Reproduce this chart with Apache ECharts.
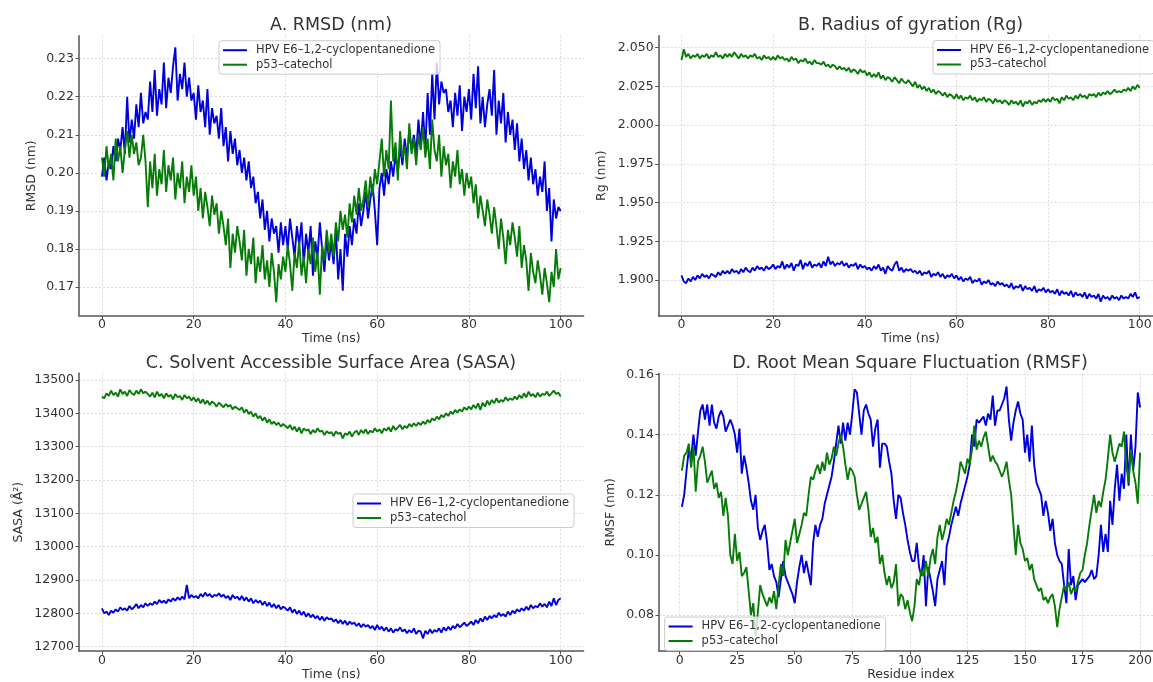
<!DOCTYPE html>
<html>
<head>
<meta charset="utf-8">
<script src="https://cdn.jsdelivr.net/npm/echarts@6/dist/echarts.min.js"></script>
<style>
html,body{margin:0;padding:0;background:#fff;overflow:hidden;width:1153px;height:682px}
#c{width:1170px;height:682px}
</style>
</head>
<body>
<div id="c"></div>
<script>
// ---------------- DATA ----------------
const seriesNames = ['HPV E6\u20131,2-cyclopentanedione', 'p53\u2013catechol'];
const panelTitles = ['A. RMSD (nm)', 'B. Radius of gyration (Rg)', 'C. Solvent Accessible Surface Area (SASA)', 'D. Root Mean Square Fluctuation (RMSF)'];
const timeStep = 0.5;      // ns between samples
const residueStart = 1;

const timeTicks = [0, 20, 40, 60, 80, 100];
const residueTicks = [0, 25, 50, 75, 100, 125, 150, 175, 200];
const rmsdTicks = [0.17, 0.18, 0.19, 0.20, 0.21, 0.22, 0.23];
const rgTicks = [1.900, 1.925, 1.950, 1.975, 2.000, 2.025, 2.050];
const sasaTicks = [12700, 12800, 12900, 13000, 13100, 13200, 13300, 13400, 13500];
const rmsfTicks = [0.08, 0.10, 0.12, 0.14, 0.16];

const rmsdHpv = [
0.199,0.204,0.198,0.203,0.201,0.207,0.203,0.209,0.206,0.212,0.205,0.220,0.208,0.214,0.209,0.218,0.212,0.221,0.213,0.216,
0.214,0.224,0.216,0.227,0.215,0.222,0.218,0.229,0.217,0.225,0.221,0.228,0.233,0.219,0.226,0.222,0.229,0.220,0.225,0.219,
0.221,0.214,0.223,0.216,0.219,0.212,0.222,0.210,0.217,0.213,0.215,0.209,0.217,0.207,0.212,0.203,0.211,0.205,0.209,0.202,
0.206,0.200,0.204,0.198,0.203,0.196,0.199,0.192,0.195,0.188,0.193,0.185,0.190,0.182,0.188,0.184,0.186,0.179,0.187,0.181,
0.186,0.180,0.188,0.183,0.178,0.186,0.181,0.187,0.176,0.184,0.179,0.186,0.173,0.182,0.178,0.187,0.180,0.174,0.183,0.177,
0.182,0.176,0.185,0.172,0.180,0.169,0.184,0.178,0.186,0.181,0.188,0.184,0.192,0.186,0.190,0.195,0.188,0.193,0.197,0.190,
0.181,0.196,0.200,0.194,0.201,0.197,0.203,0.199,0.205,0.200,0.207,0.202,0.209,0.204,0.211,0.206,0.210,0.205,0.214,0.207,
0.216,0.206,0.221,0.210,0.226,0.214,0.229,0.218,0.224,0.221,0.222,0.216,0.219,0.212,0.221,0.215,0.223,0.211,0.220,0.216,
0.222,0.214,0.226,0.217,0.228,0.213,0.220,0.212,0.218,0.222,0.215,0.227,0.210,0.219,0.213,0.221,0.208,0.216,0.210,0.214,
0.206,0.213,0.203,0.209,0.201,0.206,0.198,0.204,0.197,0.201,0.194,0.199,0.195,0.203,0.190,0.196,0.182,0.193,0.188,0.191,0.190
];
const rmsdP53 = [
0.204,0.199,0.207,0.201,0.205,0.198,0.209,0.203,0.207,0.200,0.206,0.211,0.204,0.210,0.205,0.208,0.202,0.204,0.210,0.203,
0.191,0.203,0.196,0.205,0.194,0.201,0.197,0.206,0.195,0.202,0.198,0.204,0.193,0.200,0.196,0.203,0.192,0.199,0.195,0.202,
0.194,0.199,0.190,0.196,0.188,0.195,0.191,0.186,0.194,0.189,0.192,0.184,0.190,0.186,0.181,0.188,0.175,0.184,0.179,0.186,
0.182,0.177,0.185,0.173,0.180,0.176,0.183,0.171,0.178,0.174,0.181,0.172,0.177,0.170,0.179,0.174,0.166,0.176,0.172,0.178,
0.174,0.181,0.176,0.169,0.179,0.175,0.182,0.173,0.178,0.171,0.180,0.176,0.183,0.174,0.179,0.168,0.181,0.177,0.185,0.179,
0.184,0.178,0.187,0.182,0.190,0.185,0.189,0.183,0.192,0.187,0.194,0.189,0.196,0.190,0.193,0.198,0.191,0.199,0.194,0.201,
0.197,0.203,0.209,0.199,0.206,0.201,0.219,0.203,0.208,0.198,0.211,0.204,0.207,0.201,0.213,0.205,0.209,0.202,0.210,0.206,
0.212,0.204,0.209,0.201,0.214,0.206,0.203,0.210,0.199,0.207,0.202,0.205,0.196,0.203,0.199,0.206,0.197,0.201,0.194,0.200,
0.196,0.199,0.192,0.197,0.188,0.194,0.190,0.186,0.193,0.189,0.184,0.191,0.186,0.180,0.188,0.183,0.176,0.185,0.181,0.187,
0.183,0.178,0.186,0.175,0.181,0.177,0.169,0.179,0.174,0.171,0.177,0.173,0.168,0.175,0.171,0.166,0.174,0.170,0.180,0.172,0.175
];

const rgHpv = [
1.903,1.899,1.898,1.901,1.899,1.902,1.900,1.903,1.901,1.904,1.902,1.903,1.901,1.904,1.903,1.902,1.905,1.903,1.906,1.904,
1.906,1.904,1.907,1.905,1.906,1.904,1.907,1.905,1.908,1.906,1.905,1.908,1.906,1.909,1.907,1.908,1.906,1.909,1.907,1.908,
1.910,1.907,1.909,1.908,1.912,1.907,1.910,1.908,1.911,1.906,1.910,1.909,1.913,1.907,1.911,1.909,1.912,1.908,1.910,1.909,
1.911,1.908,1.912,1.909,1.915,1.910,1.912,1.909,1.911,1.910,1.912,1.909,1.911,1.908,1.910,1.909,1.911,1.907,1.910,1.908,
1.909,1.907,1.908,1.906,1.909,1.907,1.910,1.906,1.908,1.904,1.909,1.907,1.906,1.910,1.912,1.906,1.908,1.905,1.907,1.906,
1.907,1.905,1.906,1.904,1.906,1.903,1.905,1.904,1.906,1.902,1.904,1.903,1.905,1.902,1.904,1.901,1.903,1.902,1.904,1.901,
1.903,1.900,1.902,1.899,1.901,1.900,1.902,1.898,1.900,1.899,1.901,1.897,1.899,1.898,1.900,1.897,1.898,1.896,1.899,1.897,
1.898,1.896,1.897,1.895,1.898,1.894,1.896,1.895,1.897,1.893,1.896,1.894,1.895,1.893,1.896,1.892,1.894,1.893,1.895,1.892,
1.894,1.892,1.893,1.891,1.894,1.890,1.893,1.891,1.892,1.890,1.893,1.889,1.892,1.890,1.891,1.889,1.892,1.888,1.891,1.889,
1.890,1.888,1.891,1.886,1.890,1.888,1.889,1.887,1.890,1.888,1.889,1.887,1.890,1.888,1.889,1.888,1.891,1.889,1.892,1.888,1.889
];
const rgP53 = [
2.042,2.049,2.044,2.046,2.043,2.045,2.044,2.046,2.043,2.045,2.044,2.046,2.043,2.045,2.044,2.047,2.044,2.045,2.043,2.046,
2.044,2.046,2.044,2.047,2.045,2.043,2.046,2.044,2.045,2.043,2.045,2.044,2.046,2.043,2.044,2.042,2.045,2.043,2.044,2.042,
2.044,2.042,2.045,2.043,2.044,2.042,2.043,2.041,2.044,2.042,2.043,2.040,2.042,2.041,2.043,2.040,2.041,2.039,2.042,2.040,
2.040,2.039,2.041,2.038,2.039,2.037,2.039,2.038,2.036,2.038,2.036,2.037,2.035,2.037,2.034,2.036,2.035,2.033,2.036,2.034,
2.035,2.032,2.034,2.031,2.033,2.031,2.034,2.030,2.032,2.029,2.031,2.030,2.028,2.031,2.029,2.027,2.030,2.028,2.027,2.029,
2.027,2.025,2.028,2.024,2.026,2.023,2.025,2.022,2.024,2.021,2.023,2.020,2.022,2.021,2.019,2.021,2.018,2.020,2.019,2.017,
2.020,2.017,2.019,2.016,2.018,2.017,2.019,2.016,2.018,2.015,2.017,2.016,2.018,2.015,2.017,2.016,2.014,2.017,2.015,2.016,
2.014,2.016,2.015,2.013,2.016,2.014,2.015,2.013,2.016,2.012,2.015,2.014,2.016,2.013,2.015,2.014,2.016,2.015,2.017,2.015,
2.017,2.015,2.018,2.016,2.017,2.014,2.018,2.016,2.019,2.017,2.018,2.016,2.019,2.017,2.020,2.018,2.019,2.017,2.020,2.019,
2.020,2.018,2.021,2.019,2.021,2.020,2.022,2.020,2.021,2.023,2.021,2.022,2.021,2.023,2.022,2.024,2.022,2.025,2.023,2.026,2.024
];

const sasaHpv = [
12815,12800,12805,12795,12808,12802,12812,12805,12818,12810,12815,12808,12822,12812,12818,12828,12815,12825,12818,12830,
12822,12830,12825,12835,12828,12840,12832,12838,12830,12842,12835,12845,12838,12848,12840,12850,12842,12885,12845,12855,
12848,12852,12845,12858,12850,12862,12852,12858,12848,12855,12852,12860,12850,12856,12846,12852,12840,12855,12845,12850,
12840,12852,12838,12848,12835,12845,12830,12840,12832,12838,12825,12835,12822,12832,12818,12828,12815,12825,12812,12820,
12815,12808,12818,12802,12812,12798,12808,12795,12805,12790,12800,12788,12796,12785,12792,12780,12790,12778,12788,12782,
12785,12775,12782,12770,12780,12768,12778,12765,12775,12768,12772,12762,12770,12758,12768,12760,12765,12755,12762,12750,
12765,12752,12760,12748,12758,12745,12755,12742,12752,12748,12758,12745,12752,12740,12750,12742,12755,12738,12748,12745,
12725,12748,12738,12752,12740,12750,12745,12755,12742,12758,12748,12760,12750,12762,12755,12768,12758,12765,12772,12762,
12768,12775,12765,12780,12770,12785,12775,12790,12780,12792,12785,12795,12788,12802,12792,12798,12790,12805,12795,12808,
12800,12812,12805,12815,12808,12820,12810,12825,12815,12822,12818,12830,12820,12828,12818,12835,12822,12845,12825,12840,12845
];
const sasaP53 = [
13450,13445,13460,13452,13468,13455,13462,13450,13472,13458,13465,13452,13470,13460,13455,13468,13458,13472,13460,13465,
13458,13450,13462,13448,13465,13452,13458,13445,13460,13450,13455,13442,13458,13448,13452,13440,13455,13445,13450,13438,
13448,13435,13445,13430,13442,13428,13438,13425,13435,13430,13420,13432,13425,13418,13428,13420,13425,13412,13420,13415,
13410,13418,13402,13412,13398,13405,13390,13400,13385,13392,13378,13388,13372,13382,13368,13375,13365,13372,13360,13368,
13362,13355,13365,13350,13360,13345,13358,13340,13355,13348,13352,13338,13350,13342,13355,13345,13348,13335,13346,13340,
13344,13332,13346,13338,13342,13325,13340,13335,13345,13330,13342,13348,13335,13350,13340,13352,13338,13348,13342,13355,
13345,13352,13340,13355,13348,13358,13345,13362,13350,13358,13365,13352,13362,13356,13368,13360,13370,13362,13372,13365,
13375,13368,13380,13372,13385,13378,13390,13382,13395,13388,13400,13392,13405,13398,13410,13402,13412,13405,13418,13410,
13420,13412,13425,13415,13430,13410,13432,13420,13438,13425,13440,13430,13445,13432,13440,13435,13448,13438,13445,13440,
13450,13442,13455,13445,13460,13448,13465,13452,13458,13448,13462,13450,13458,13455,13465,13452,13460,13468,13458,13462,13450
];

const rmsfHpv = [
0.116,0.120,0.128,0.135,0.132,0.140,0.133,0.141,0.148,0.150,
0.145,0.150,0.143,0.150,0.144,0.142,0.146,0.148,0.146,0.141,
0.143,0.145,0.143,0.140,0.134,0.142,0.127,0.133,0.129,0.124,
0.118,0.115,0.120,0.109,0.105,0.108,0.110,0.104,0.095,0.097,
0.093,0.091,0.086,0.092,0.098,0.093,0.091,0.089,0.087,0.084,
0.091,0.096,0.100,0.094,0.098,0.094,0.090,0.104,0.110,0.106,
0.110,0.112,0.117,0.120,0.123,0.126,0.131,0.137,0.143,0.137,
0.144,0.138,0.144,0.140,0.147,0.155,0.154,0.147,0.140,0.148,
0.150,0.147,0.145,0.136,0.142,0.145,0.129,0.137,0.137,0.136,
0.131,0.127,0.118,0.112,0.120,0.119,0.114,0.110,0.105,0.101,
0.098,0.098,0.104,0.096,0.093,0.100,0.083,0.096,0.092,0.088,
0.083,0.092,0.095,0.098,0.090,0.103,0.106,0.110,0.113,0.116,
0.113,0.117,0.120,0.123,0.126,0.130,0.140,0.136,0.145,0.144,
0.145,0.146,0.143,0.147,0.145,0.153,0.143,0.148,0.148,0.150,
0.152,0.156,0.145,0.138,0.144,0.148,0.151,0.147,0.145,0.134,
0.140,0.131,0.143,0.130,0.124,0.122,0.120,0.113,0.118,0.114,
0.108,0.112,0.104,0.100,0.098,0.097,0.090,0.084,0.102,0.090,
0.093,0.085,0.090,0.091,0.092,0.091,0.092,0.093,0.095,0.092,
0.093,0.100,0.110,0.101,0.107,0.101,0.118,0.110,0.122,0.130,
0.118,0.127,0.122,0.140,0.123,0.140,0.128,0.136,0.154,0.149
];
const rmsfP53 = [
0.128,0.133,0.134,0.137,0.129,0.136,0.121,0.131,0.133,0.136,
0.131,0.124,0.126,0.128,0.122,0.124,0.119,0.121,0.113,0.119,
0.113,0.100,0.097,0.107,0.098,0.101,0.093,0.094,0.096,0.088,
0.080,0.084,0.073,0.081,0.090,0.087,0.085,0.083,0.086,0.084,
0.088,0.082,0.090,0.097,0.093,0.105,0.100,0.104,0.108,0.112,
0.104,0.107,0.110,0.114,0.113,0.120,0.126,0.125,0.128,0.130,
0.127,0.131,0.128,0.134,0.130,0.132,0.136,0.133,0.137,0.140,
0.136,0.130,0.125,0.129,0.128,0.126,0.120,0.115,0.117,0.119,
0.121,0.115,0.106,0.109,0.104,0.106,0.097,0.100,0.094,0.090,
0.093,0.089,0.091,0.097,0.083,0.087,0.086,0.082,0.085,0.081,
0.078,0.083,0.092,0.090,0.095,0.093,0.098,0.093,0.099,0.102,
0.097,0.106,0.110,0.105,0.108,0.112,0.110,0.114,0.118,0.121,
0.125,0.131,0.129,0.127,0.132,0.130,0.135,0.143,0.135,0.138,
0.136,0.139,0.141,0.136,0.131,0.133,0.131,0.130,0.128,0.126,
0.128,0.131,0.125,0.120,0.110,0.100,0.110,0.104,0.102,0.098,
0.099,0.095,0.097,0.092,0.090,0.088,0.089,0.085,0.086,0.084,
0.086,0.087,0.083,0.076,0.082,0.086,0.090,0.088,0.091,0.087,
0.089,0.088,0.091,0.094,0.095,0.100,0.104,0.110,0.115,0.120,
0.114,0.118,0.116,0.121,0.125,0.132,0.140,0.134,0.131,0.134,
0.137,0.136,0.141,0.130,0.124,0.135,0.128,0.124,0.117,0.134
];

// ---------------- CHART ----------------
const FONT = 'DejaVu Sans';
const BLUE = '#0000dc';
const GREEN = '#077b07';
const AXIS_COLOR = '#555';
const TEXT_COLOR = '#333';

const timeNs = rmsdHpv.map((_, i) => i * timeStep);
const residues = rmsfHpv.map((_, i) => i + residueStart);
const pairs = (xs, ys) => ys.map((v, i) => [xs[i], v]);

const grids = [
  {left: 79,  top: 35.7,  width: 504.6, height: 280},
  {left: 658.6, top: 35.7, width: 504, height: 280},
  {left: 79,  top: 373.3, width: 504.6, height: 279.4},
  {left: 659, top: 373.5, width: 504, height: 279.2}
];

function xAx(gi, min, max, ticks, name) {
  return {
    type: 'value', gridIndex: gi, min: min, max: max,
    name: name, nameLocation: 'middle', nameGap: 17,
    nameTextStyle: {fontSize: 12.5, color: TEXT_COLOR, fontFamily: FONT},
    axisLine: {show: true, onZero: false, lineStyle: {color: AXIS_COLOR, width: 1.5}},
    axisTick: {show: true, length: 3.5, customValues: ticks, lineStyle: {color: AXIS_COLOR, width: 1}},
    axisLabel: {customValues: ticks, margin: 3, fontSize: 12.5, color: TEXT_COLOR, fontFamily: FONT,
      formatter: v => String(v)},
    splitLine: {show: true, lineStyle: {color: '#d2d2d2', type: [2, 2], width: 0.8}}
  };
}
function yAx(gi, min, max, ticks, name, gap, dec) {
  return {
    type: 'value', gridIndex: gi, min: min, max: max,
    name: name, nameLocation: 'middle', nameGap: gap,
    nameTextStyle: {fontSize: 12.5, color: TEXT_COLOR, fontFamily: FONT},
    axisLine: {show: true, onZero: false, lineStyle: {color: AXIS_COLOR, width: 1.5}},
    axisTick: {show: true, length: 3.5, customValues: ticks, lineStyle: {color: AXIS_COLOR, width: 1}},
    axisLabel: {customValues: ticks, margin: 5, fontSize: 12.5, color: TEXT_COLOR, fontFamily: FONT,
      formatter: v => Number(v).toFixed(dec)},
    splitLine: {show: true, lineStyle: {color: '#d2d2d2', type: [2, 2], width: 0.8}}
  };
}

function legendAt(left, top) {
  return {
    left: left, top: top, orient: 'vertical', data: seriesNames,
    icon: 'rect', itemWidth: 24, itemHeight: 2, itemGap: 1.5,
    padding: [3, 5, 3, 4],
    backgroundColor: 'rgba(255,255,255,0.8)', borderColor: '#cccccc', borderWidth: 1, borderRadius: 3,
    selectedMode: false,
    textStyle: {fontSize: 11.5, lineHeight: 13, color: TEXT_COLOR, fontFamily: FONT, padding: [0, 0, 0, 4]}
  };
}

function titleAt(cx, top, text) {
  return {text: text, left: cx, top: top, textAlign: 'center', padding: 0,
    textStyle: {fontSize: 17.5, fontWeight: 'normal', color: TEXT_COLOR, fontFamily: FONT, lineHeight: 18}};
}

function lineSeries(name, color, xi, data) {
  return {type: 'line', name: name, xAxisIndex: xi, yAxisIndex: xi, data: data,
    showSymbol: false, symbol: 'none', animation: false,
    lineStyle: {color: color, width: 1.9}, itemStyle: {color: color}};
}

const option = {
  backgroundColor: '#ffffff',
  animation: false,
  title: [
    titleAt(331, 16.5, panelTitles[0]),
    titleAt(910.6, 16.5, panelTitles[1]),
    titleAt(331, 354, panelTitles[2]),
    titleAt(910, 354, panelTitles[3])
  ],
  legend: [legendAt(219, 40.7), legendAt(933, 40.5), legendAt(353, 494), legendAt(664.6, 617)],
  grid: grids.map(g => Object.assign({containLabel: false}, g)),
  xAxis: [
    xAx(0, -5, 105, timeTicks, 'Time (ns)'),
    xAx(1, -5, 105, timeTicks, 'Time (ns)'),
    xAx(2, -5, 105, timeTicks, 'Time (ns)'),
    xAx(3, -8.95, 209.95, residueTicks, 'Residue index')
  ],
  yAxis: [
    yAx(0, 0.16246, 0.23604, rmsdTicks, 'RMSD (nm)', 41, 2),
    yAx(1, 1.87695, 2.0577, rgTicks, 'Rg (nm)', 50, 3),
    yAx(2, 12687, 13520, sasaTicks, 'SASA (\u00c5\u00b2)', 54, 0),
    yAx(3, 0.0681, 0.1603, rmsfTicks, 'RMSF (nm)', 41.5, 2)
  ],
  series: [
    lineSeries(seriesNames[0], BLUE, 0, pairs(timeNs, rmsdHpv)),
    lineSeries(seriesNames[1], GREEN, 0, pairs(timeNs, rmsdP53)),
    lineSeries(seriesNames[0], BLUE, 1, pairs(timeNs, rgHpv)),
    lineSeries(seriesNames[1], GREEN, 1, pairs(timeNs, rgP53)),
    lineSeries(seriesNames[0], BLUE, 2, pairs(timeNs, sasaHpv)),
    lineSeries(seriesNames[1], GREEN, 2, pairs(timeNs, sasaP53)),
    lineSeries(seriesNames[0], BLUE, 3, pairs(residues, rmsfHpv)),
    lineSeries(seriesNames[1], GREEN, 3, pairs(residues, rmsfP53))
  ]
};

const chart = echarts.init(document.getElementById('c'), null, {renderer: 'canvas'});
chart.setOption(option);
</script>
</body>
</html>
